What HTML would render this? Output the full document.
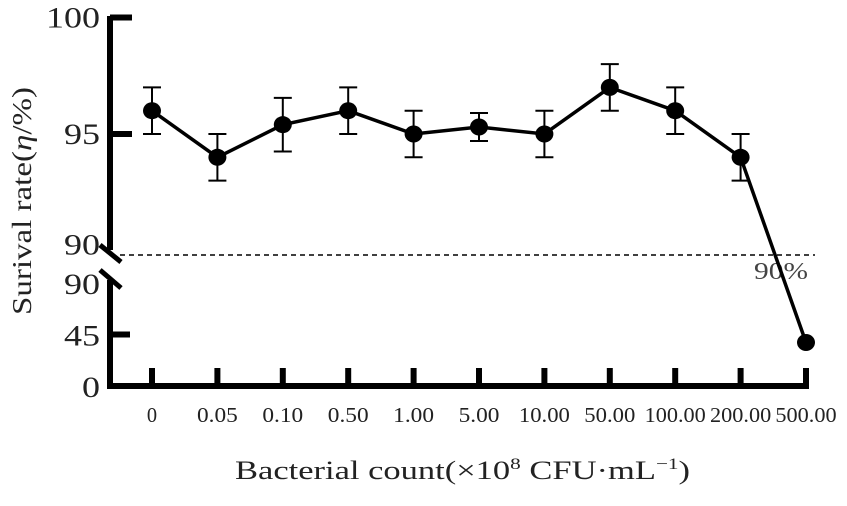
<!DOCTYPE html>
<html><head><meta charset="utf-8"><style>
html,body{margin:0;padding:0;background:#fff;}
svg{display:block;font-family:"Liberation Serif",serif;}
</style></head><body>
<svg id="chart" width="847" height="506" viewBox="0 0 847 506">
<g id="axes">
  <line x1="110" y1="16" x2="110" y2="250" stroke="#000" stroke-width="6"/>
  <line x1="110" y1="280" x2="110" y2="389" stroke="#000" stroke-width="6"/>
  <line x1="107" y1="386" x2="809" y2="386" stroke="#000" stroke-width="6"/>
  <line x1="100" y1="245" x2="121" y2="262" stroke="#000" stroke-width="5"/>
  <line x1="100" y1="270" x2="121" y2="288" stroke="#000" stroke-width="5"/>
  <line x1="120" y1="255" x2="815" y2="255" stroke="#000" stroke-width="1.5" stroke-dasharray="5,4"/>
  <text x="754" y="279" font-size="24" fill="#444" textLength="54" lengthAdjust="spacingAndGlyphs">90%</text>
</g>
<g id="ticks"></g>
<g id="series"></g>
<text x="235" y="479" font-size="26" textLength="455" lengthAdjust="spacingAndGlyphs" fill="#222">Bacterial count(×10<tspan dy="-10" font-size="16">8</tspan><tspan dy="10"> CFU·mL</tspan><tspan dy="-10" font-size="16">−1</tspan><tspan dy="10">)</tspan></text>
<text transform="translate(31,315) rotate(-90)" font-size="27" textLength="228" lengthAdjust="spacingAndGlyphs" fill="#222">Surival rate(<tspan font-style="italic">η</tspan>/%)</text>
</svg>
<script>
const categories=["0","0.05","0.10","0.50","1.00","5.00","10.00","50.00","100.00","200.00","500.00"];
const values=[96,94,95.4,96,95,95.3,95,97,96,94,38];
const errors=[1,1,1.15,1,1,0.6,1,1,1,1,0];
const upperTicks=[95,100];
const lowerTicks=[0,45,90];
const NS="http://www.w3.org/2000/svg";
const svg=document.getElementById('chart');
const tg=document.getElementById('ticks');
const sg=document.getElementById('series');
function xPos(i){return 152+i*(806-152)/(categories.length-1);}
function yUp(v){return 134-(v-95)*23.3;}
function yLow(v){return 386-v*(386-283)/90;}
function yVal(v){return v>=90?yUp(v):yLow(v);}
function mk(tag,attrs,parent){const e=document.createElementNS(NS,tag);for(const k in attrs)e.setAttribute(k,attrs[k]);parent.appendChild(e);return e;}
function yLabel(v,y,name){
  const s=String(v);
  const t=mk('text',{x:100-s.length*18,y:y,'font-size':30,textLength:s.length*18,lengthAdjust:'spacingAndGlyphs',fill:'#222'},tg);t.textContent=s;
  
  
}
upperTicks.forEach(v=>{
  const l=mk('line',{x1:110,x2:132,y1:yUp(v),y2:yUp(v),stroke:'#000','stroke-width':6},tg);
  
  
  yLabel(v,yUp(v)+10,'y-tick-label-'+v);
});
yLabel(90,yUp(90)+4,'y-tick-label-90-upper');
lowerTicks.forEach(v=>{
  if(v>0&&v<90){const l=mk('line',{x1:110,x2:130,y1:yLow(v),y2:yLow(v),stroke:'#000','stroke-width':6},tg);
  
  }
  yLabel(v,yLow(v)+11,'y-tick-label-low-'+v);
});
categories.forEach((c,i)=>{
  const l=mk('line',{x1:xPos(i),x2:xPos(i),y1:368,y2:386,stroke:'#000','stroke-width':6},tg);
  
  
  const w=c.length*10.2;
  const t=mk('text',{x:xPos(i)-w/2,y:422,'font-size':21,textLength:w,lengthAdjust:'spacingAndGlyphs',fill:'#222'},tg);t.textContent=c;
  
  
});
const pts=values.map((v,i)=>xPos(i)+','+yVal(v)).join(' ');
const pl=mk('polyline',{points:pts,fill:'none',stroke:'#000','stroke-width':3.5},sg);


values.forEach((v,i)=>{
  const x=xPos(i);
  if(errors[i]>0){
    const y1=yVal(v+errors[i]),y2=yVal(v-errors[i]);
    const e=mk('path',{d:`M${x},${y1}V${y2}M${x-9},${y1}H${x+9}M${x-9},${y2}H${x+9}`,stroke:'#000','stroke-width':2,fill:'none'},sg);
    
    
  }
  const c=mk('ellipse',{cx:x,cy:yVal(v),rx:9,ry:8.5,fill:'#000'},sg);
  
  
});
</script>
</body></html>
